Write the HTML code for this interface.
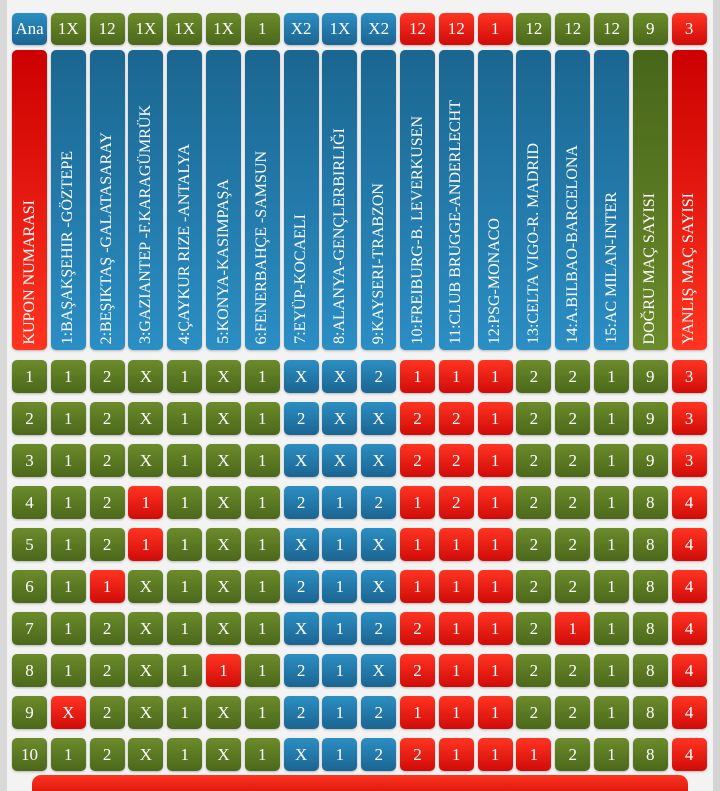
<!DOCTYPE html>
<html><head><meta charset="utf-8"><style>
html,body{margin:0;padding:0}
body{width:720px;height:791px;position:relative;overflow:hidden;background:#f3f3f3;font-family:"Liberation Serif",serif;}
.c{position:absolute;width:35px;border-radius:5px;color:#fff;text-align:center;font-size:17px;box-shadow:0 1px 2px rgba(0,0,0,.25)}
.g{background:linear-gradient(#6b8b2b,#4b681a)}
.b{background:linear-gradient(#2c8ec2,#1a6592)}
.r{background:linear-gradient(#ff3422,#d00b08)}
.tb{background:linear-gradient(#1b6690,#2b8ec4)}
.tg{background:linear-gradient(#48661a,#6b8b2b)}
.tr{background:linear-gradient(#cc0000,#ff3420)}
.v{display:flex;align-items:flex-end;justify-content:center}
.v span{writing-mode:vertical-rl;transform:rotate(180deg);font-size:16px;white-space:nowrap;margin-bottom:6px}
</style></head><body>
<div style="position:absolute;left:0;top:0;width:7px;height:791px;background:#d8d8d8"></div>
<div style="position:absolute;right:0;top:0;width:7px;height:791px;background:#d4d4d4"></div>
<div style="position:absolute;left:32px;top:775px;width:656px;height:16px;border-radius:9px 9px 0 0;background:linear-gradient(#ff3420,#e01a10)"></div>
<div id="root"></div>
<script>
var X=function(i){return 12+i*38.8;};
var h='';
var topv=['Ana','1X','12','1X','1X','1X','1','X2','1X','X2','12','12','1','12','12','12','9','3'];
var topc=['b','g','g','g','g','g','g','b','b','b','r','r','r','g','g','g','g','r'];
for(var i=0;i<18;i++){h+='<div class="c '+topc[i]+'" style="left:'+X(i)+'px;top:13px;height:32px;line-height:32px">'+topv[i]+'</div>';}
var names=['KUPON NUMARASI','1:BAŞAKŞEHIR -GÖZTEPE','2:BEŞIKTAŞ -GALATASARAY','3:GAZIANTEP -F.KARAGÜMRÜK','4:ÇAYKUR RIZE -ANTALYA','5:KONYA-KASIMPAŞA','6:FENERBAHÇE -SAMSUN','7:EYÜP-KOCAELI','8:ALANYA-GENÇLERBIRLIĞI','9:KAYSERI-TRABZON','10:FREIBURG-B. LEVERKUSEN','11:CLUB BRUGGE-ANDERLECHT','12:PSG-MONACO','13:CELTA VIGO-R. MADRID','14:A.BILBAO-BARCELONA','15:AC MILAN-INTER','DOĞRU MAÇ SAYISI','YANLIŞ MAÇ SAYISI'];
for(var i=0;i<18;i++){var cl=i==0||i==17?'tr':(i==16?'tg':'tb');h+='<div class="c v '+cl+'" style="left:'+X(i)+'px;top:50px;height:300px"><span>'+names[i]+'</span></div>';}
var rows=[
'1 1 2 X 1 X 1 X X 2 1 1 1 2 2 1 9 3',
'2 1 2 X 1 X 1 2 X X 2 2 1 2 2 1 9 3',
'3 1 2 X 1 X 1 X X X 2 2 1 2 2 1 9 3',
'4 1 2 1 1 X 1 2 1 2 1 2 1 2 2 1 8 4',
'5 1 2 1 1 X 1 X 1 X 1 1 1 2 2 1 8 4',
'6 1 1 X 1 X 1 2 1 X 1 1 1 2 2 1 8 4',
'7 1 2 X 1 X 1 X 1 2 2 1 1 2 1 1 8 4',
'8 1 2 X 1 1 1 2 1 X 2 1 1 2 2 1 8 4',
'9 X 2 X 1 X 1 2 1 2 1 1 1 2 2 1 8 4',
'10 1 2 X 1 X 1 X 1 2 2 1 1 1 2 1 8 4'];
var reds={'3,3':1,'4,3':1,'5,2':1,'7,5':1,'8,1':1,'6,14':1,'9,13':1};
for(var r=0;r<10;r++){var v=rows[r].split(' ');for(var i=0;i<18;i++){var cl='g';if(i>=7&&i<=9)cl='b';else if(i>=10&&i<=12)cl='r';else if(i==17)cl='r';if(reds[r+','+i])cl='r';
h+='<div class="c '+cl+'" style="left:'+X(i)+'px;top:'+(360+r*42)+'px;height:33px;line-height:33px">'+v[i]+'</div>';}}
document.getElementById('root').innerHTML=h;
</script>
</body></html>
